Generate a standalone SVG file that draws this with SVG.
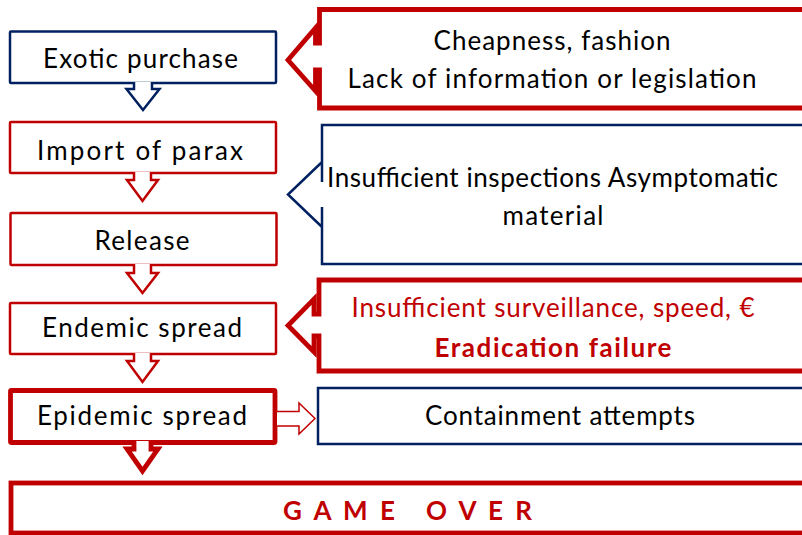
<svg xmlns="http://www.w3.org/2000/svg" width="802" height="535" viewBox="0 0 802 535">
<style>
.t{font-family:Lato,"Liberation Sans",sans-serif;font-size:26px;fill:#000;text-anchor:middle}
.r{fill:#C00000}
.b{font-weight:bold}
.nv{fill:#fff;stroke:#002060;stroke-width:2.5}
.rd{fill:#fff;stroke:#C00000;stroke-width:2.5}
.rdk{fill:#fff;stroke:#C00000;stroke-width:4.8}
.rdt{fill:#fff;stroke:#C00000;stroke-width:1.5}
</style>
<rect width="802" height="535" fill="#fff"/>

<g id="callout-cheapness">
<path class="rdk" d="M 810 9.5 H 319.5 V 43 H 315.5 V 28 L 288 60 L 315.5 91 V 70 H 319.5 V 108 H 810"/>
<text class="t" x="552" y="50" textLength="237">Cheapness, fashion</text>
<text class="t" x="552" y="88" textLength="409">Lack of information or legislation</text>
</g>

<g id="callout-inspections">
<path class="nv" d="M 810 125 H 322 V 182 V 162 L 288 194.5 L 322 227 V 207 V 264 H 810"/>
<text class="t" x="552.5" y="187" textLength="451">Insufficient inspections Asymptomatic</text>
<text class="t" x="553" y="225" textLength="101">material</text>
</g>

<g id="callout-eradication">
<path class="rdk" d="M 810 280 H 319 V 314 H 314 V 299 L 288 325.5 L 314 352 V 336 H 319 V 371 H 810"/>
<text class="t r" x="553" y="317" textLength="403">Insufficient surveillance, speed, €</text>
<text class="t r b" x="553" y="357" textLength="237">Eradication failure</text>
</g>

<g id="containment">
<rect class="nv" x="318" y="388" width="492" height="56"/>
<text class="t" x="560" y="425" textLength="270">Containment attempts</text>
</g>

<g id="exotic-purchase">
<rect class="nv" x="10" y="31.5" width="266" height="51.5" rx="1"/>
<text class="t" x="140.5" y="68" textLength="195">Exotic purchase</text>
</g>

<g id="import">
<rect class="rd" x="10" y="122" width="266" height="51" rx="1"/>
<text class="t" x="140" y="160" textLength="206">Import of parax</text>
</g>

<g id="release">
<rect class="rd" x="10.5" y="213" width="266" height="52" rx="1"/>
<text class="t" x="142" y="250" textLength="95">Release</text>
</g>

<g id="endemic">
<rect class="rd" x="10" y="303" width="266" height="51" rx="1"/>
<text class="t" x="142" y="337" textLength="200">Endemic spread</text>
</g>

<g id="epidemic">
<rect class="rdk" x="10.5" y="390.5" width="264.5" height="52" rx="1"/>
<text class="t" x="142" y="425" textLength="210">Epidemic spread</text>
</g>

<g id="game-over">
<rect class="rdk" x="11" y="483" width="800" height="50"/>
<text class="t r b" x="283" y="520" style="text-anchor:start;white-space:pre" xml:space="preserve" textLength="249">G A M E   O V E R</text>
</g>

<g id="connectors">
<path class="nv" d="M 134 82 V 89 H 126.5 L 143 110 L 159.5 89 H 152 V 82"/>
<path class="rd" d="M 134 172 V 180 H 127 L 142.5 201 L 158 180 H 151 V 172"/>
<path class="rd" d="M 134 264 V 273 H 127 L 142.5 293 L 158 273 H 151 V 264"/>
<path class="rd" d="M 134 353 V 361 H 127 L 142.5 382 L 158 361 H 151 V 353"/>
<path class="rdk" d="M 134 441 V 449 H 127 L 142.5 471 L 158 449 H 151 V 441"/>
<path class="rdt" d="M 277 411.5 H 299 V 403 L 315 418.5 L 299 434 V 426 H 277"/>
</g>
</svg>
